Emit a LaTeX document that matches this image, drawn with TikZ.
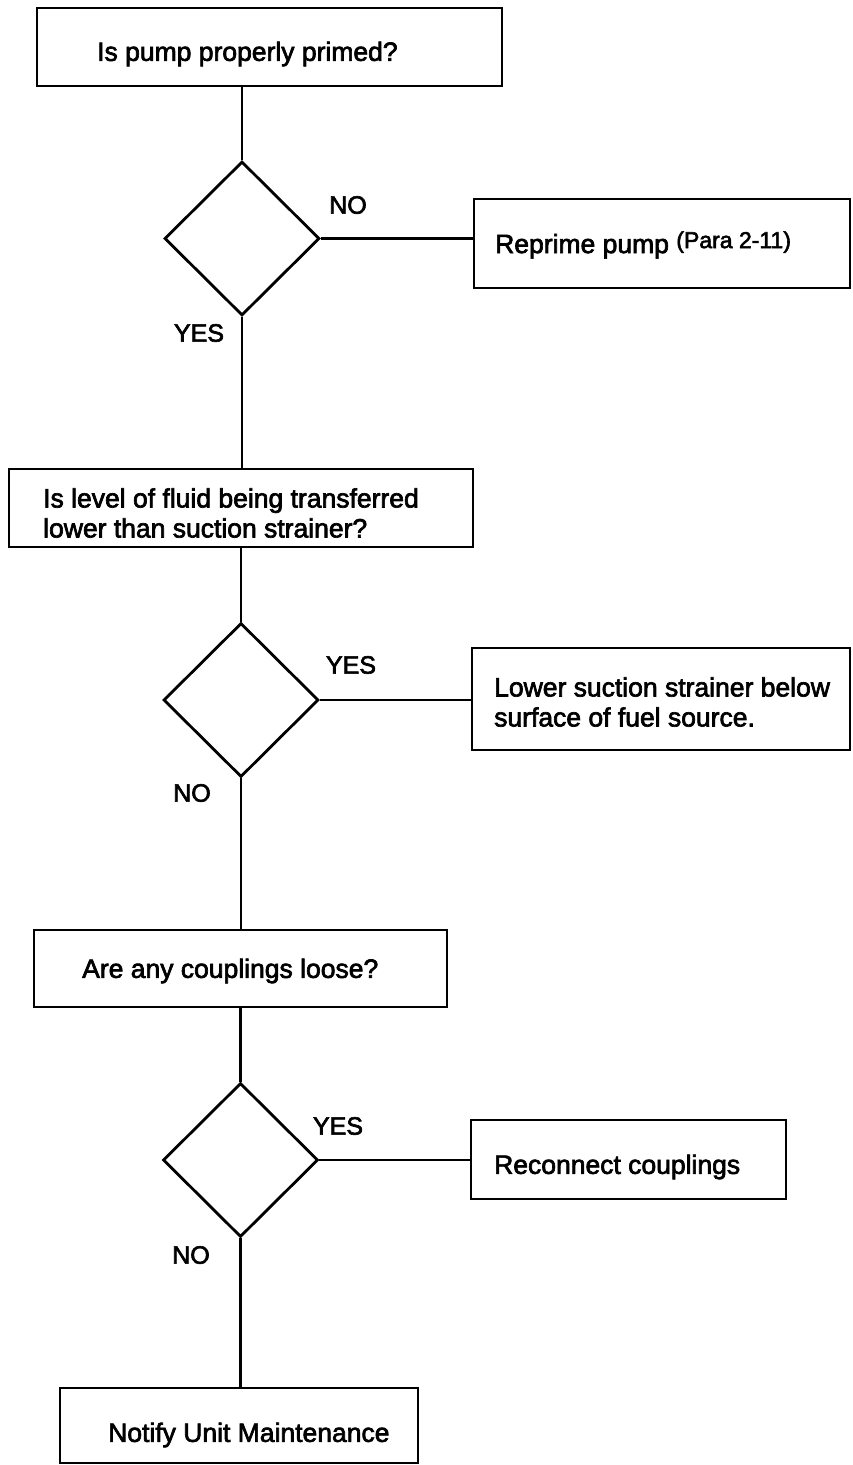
\documentclass[tikz,border=0pt]{standalone}
\usepackage{fontspec}
\setmainfont{Liberation Sans}[FakeBold=2.5]
\usepackage{tikz}
\usetikzlibrary{shapes.geometric}
\tikzset{
	box/.style={draw, line width=2.8pt, rectangle, inner sep=0pt},
	decision/.style={draw, line width=2.8pt, diamond, aspect=1, inner sep=0pt, minimum width=155pt, minimum height=154pt},
	link/.style={line width=2.5pt},
	txt/.style={anchor=west, inner sep=0pt, align=left, font=\fontsize{26.5}{30}\selectfont},
	tag/.style={inner sep=0pt, font=\fontsize{25}{28}\selectfont}
}

\begin{document}
\begin{tikzpicture}[x=1pt, y=-1pt]
		\useasboundingbox (0, 0) rectangle (852, 1465);
		% First check: priming
		\node [box, minimum width=465pt, minimum height=78pt] (q1) at (269.5, 47) {};
		\node [txt] (q1t) at (97, 54) {Is pump properly primed?};
		\node [decision] (d1) at (242, 238.5) {};
		\node [box, minimum width=376pt, minimum height=89pt] (reprime) at (662, 243.5) {};
		\node [txt] (reprimet) at (495, 245) {Reprime pump {\fontsize{23}{26}\selectfont\raisebox{5pt}{(Para 2-11)}}};
		\node [tag] (no1) at (348, 205) {NO};
		\node [tag] (yes1) at (199, 333) {YES};
		\draw [link] (q1.south -| d1.north) -- (d1.north);
		\draw [link] (d1.east) -- (d1.east -| reprime.west);
		% Second check: fluid level
		\node [box, minimum width=464pt, minimum height=78pt] (q2) at (241, 508) {};
		\node [txt] (q2t) at (43, 513) {Is level of fluid being transferred\\lower than suction strainer?};
		\draw [link] (d1.south) -- (d1.south |- q2.north);
		\node [decision] (d2) at (241, 700) {};
		\node [box, minimum width=378pt, minimum height=102pt] (lower) at (661, 699) {};
		\node [txt] (lowert) at (494, 702) {Lower suction strainer below\\surface of fuel source.};
		\node [tag] (yes2) at (351, 665) {YES};
		\node [tag] (no2) at (192, 793) {NO};
		\draw [link] (q2.south -| d2.north) -- (d2.north);
		\draw [link] (d2.east) -- (d2.east -| lower.west);
		% Third check: couplings
		\node [box, minimum width=413pt, minimum height=77pt] (q3) at (240.5, 968.5) {};
		\node [txt] (q3t) at (82, 971) {Are any couplings loose?};
		\draw [link] (d2.south) -- (d2.south |- q3.north);
		\node [decision] (d3) at (240.5, 1160) {};
		\node [box, minimum width=315pt, minimum height=79pt] (reconnect) at (628.5, 1159.5) {};
		\node [txt] (reconnectt) at (494, 1167) {Reconnect couplings};
		\node [tag] (yes3) at (338, 1126) {YES};
		\node [tag] (no3) at (191, 1255) {NO};
		\draw [link] (q3.south -| d3.north) -- (d3.north);
		\draw [link] (d3.east) -- (d3.east -| reconnect.west);
		% Last step
		\node [box, minimum width=358pt, minimum height=75pt] (notify) at (239, 1425.5) {};
		\node [txt] (notifyt) at (108, 1435) {Notify Unit Maintenance};
		\draw [link] (d3.south) -- (d3.south |- notify.north);
	\end{tikzpicture}
\end{document}
